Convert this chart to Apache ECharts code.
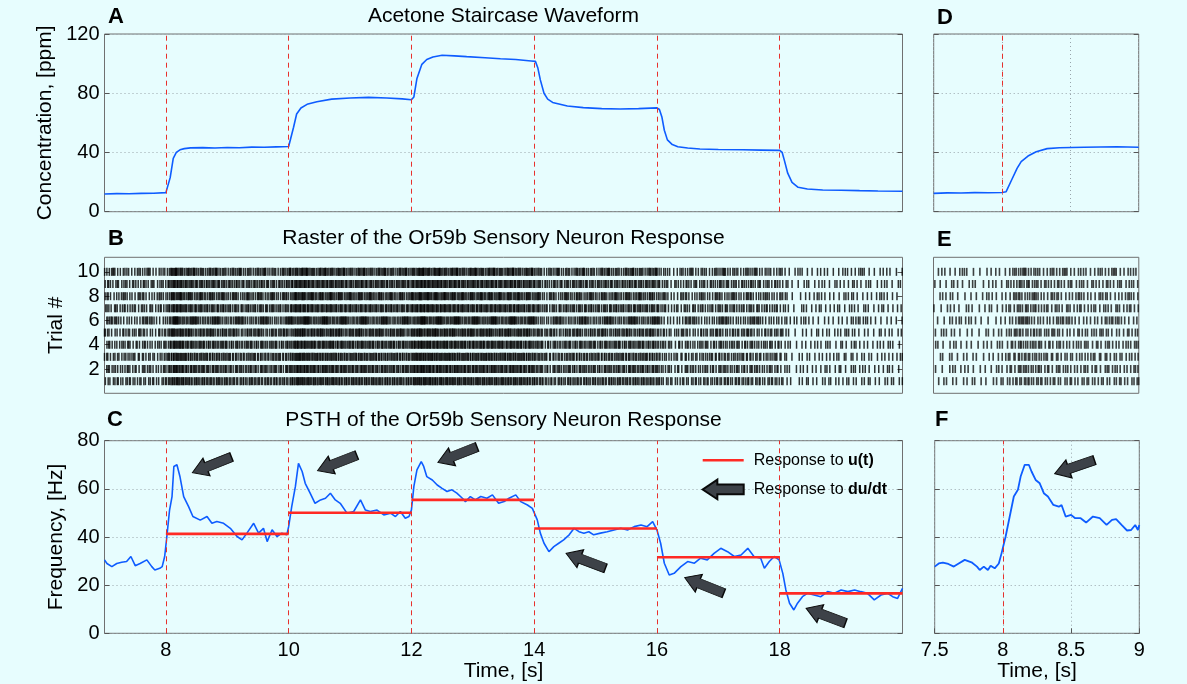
<!DOCTYPE html>
<html>
<head>
<meta charset="utf-8">
<title>Acetone staircase and Or59b response</title>
<script src="https://cdn.jsdelivr.net/npm/echarts@6.0.0/dist/echarts.min.js"></script>
<style>
  html, body { margin: 0; padding: 0; background: #e7fdfe; }
  #chart { width: 1187px; height: 684px; }
</style>
</head>
<body>
<div id="chart"></div>
<script>
// ---- values ----
const switchTimes = [8, 10, 12, 14, 16, 18];
const xTickValues = [8, 10, 12, 14, 16, 18];
const trialTicks = [2, 4, 6, 8, 10];
const trials = [1, 2, 3, 4, 5, 6, 7, 8, 9, 10];

// A: acetone concentration, ppm
const concTimes = [7.0, 7.2, 7.4, 7.6, 7.8, 8.0, 8.03, 8.07, 8.12, 8.17, 8.23, 8.3, 8.4, 8.6, 8.8, 9.0, 9.2, 9.4, 9.6, 9.8,
  10.0, 10.03, 10.08, 10.13, 10.2, 10.3, 10.46, 10.7, 11.0, 11.3, 11.6, 11.85, 12.0,
  12.04, 12.09, 12.17, 12.25, 12.35, 12.5, 12.7, 12.9, 13.2, 13.45, 13.7, 13.95, 14.02,
  14.06, 14.1, 14.16, 14.22, 14.3, 14.54, 14.8, 15.1, 15.4, 15.7, 16.0,
  16.04, 16.08, 16.12, 16.17, 16.25, 16.34, 16.5, 16.7, 17.0, 17.4, 17.7, 18.0,
  18.04, 18.08, 18.13, 18.2, 18.3, 18.45, 18.7, 19.0, 19.3, 19.6, 20.0];
const concValues = [12.0, 12.2, 12.1, 12.4, 12.5, 12.9, 13.2, 23.0, 36.0, 40.0, 41.8, 42.6, 43.1, 43.3, 43.0, 43.4, 43.2, 43.6, 43.5, 43.8,
  44.0, 44.5, 57.0, 66.0, 70.0, 72.5, 74.3, 76.0, 76.8, 77.2, 76.8, 76.2, 75.6,
  77.5, 90.0, 99.5, 102.8, 104.5, 105.6, 105.2, 104.7, 104.0, 103.3, 102.8, 101.8, 101.5,
  97.0, 89.0, 80.0, 76.0, 73.8, 71.4, 70.3, 69.6, 69.4, 69.6, 70.1,
  69.0, 64.0, 55.0, 48.5, 45.3, 43.9, 43.0, 42.3, 42.0, 41.8, 41.6, 41.4,
  40.0, 34.0, 26.0, 19.8, 16.5, 15.3, 14.7, 14.5, 14.2, 14.0, 13.8];

// D: concentration, 7.5-9 s
const concZoomTimes = [7.5, 7.6, 7.7, 7.8, 7.9, 8.0, 8.03, 8.07, 8.11, 8.14, 8.19, 8.25, 8.33, 8.42, 8.6, 8.84, 9.0];
const concZoomValues = [12.4, 12.7, 12.6, 12.9, 12.8, 13.0, 13.5, 21.4, 29.3, 33.8, 37.6, 40.5, 42.6, 43.2, 43.5, 43.9, 43.5];

// C: PSTH, Hz
const psthTimes = [7.0, 7.04, 7.12, 7.2, 7.28, 7.36, 7.43, 7.5, 7.58, 7.69, 7.77, 7.82, 7.9, 7.94, 7.98,
  8.01, 8.06, 8.1, 8.13, 8.18, 8.23, 8.29, 8.37, 8.44, 8.56, 8.67, 8.75, 8.83, 8.94, 9.05, 9.16, 9.24, 9.32,
  9.43, 9.51, 9.59, 9.65, 9.73, 9.81, 9.89, 9.97,
  10.0, 10.05, 10.11, 10.16, 10.22, 10.27, 10.35, 10.43, 10.52, 10.6, 10.68, 10.76, 10.84, 10.95, 11.06,
  11.17, 11.25, 11.33, 11.44, 11.55, 11.66, 11.74, 11.82, 11.9, 11.96,
  12.0, 12.04, 12.09, 12.16, 12.2, 12.25, 12.34, 12.42, 12.5, 12.58, 12.66, 12.74, 12.83, 12.88, 12.96,
  13.04, 13.13, 13.23, 13.32, 13.42, 13.51, 13.59, 13.7, 13.78, 13.89, 13.97,
  14.0, 14.05, 14.1, 14.16, 14.24, 14.32, 14.4, 14.48, 14.57, 14.65, 14.73, 14.81, 14.89, 14.97,
  15.08, 15.19, 15.3, 15.41, 15.52, 15.63, 15.74, 15.84, 15.93,
  16.0, 16.06, 16.12, 16.2, 16.28, 16.39, 16.5, 16.61, 16.71, 16.82, 16.93, 17.04, 17.15, 17.26,
  17.37, 17.48, 17.58, 17.69, 17.75, 17.83, 17.91, 17.99,
  18.05, 18.1, 18.16, 18.23, 18.29, 18.37, 18.45, 18.56, 18.67, 18.78, 18.89, 19.0, 19.11, 19.22,
  19.32, 19.43, 19.54, 19.65, 19.76, 19.84, 19.92, 20.0];
const psthRates = [30.5, 29.0, 27.7, 29.0, 29.5, 29.8, 31.9, 28.1, 29.0, 30.5, 27.7, 26.3, 27.0, 27.7, 31.9,
  38.8, 51.2, 56.8, 69.3, 70.0, 65.0, 56.8, 52.6, 48.5, 47.0, 48.5, 45.7, 46.4, 45.7, 43.6, 40.2, 38.8, 41.6,
  45.7, 41.6, 43.6, 38.1, 43.0, 40.2, 41.6, 40.9,
  44.3, 52.6, 61.0, 70.6, 67.2, 62.3, 58.2, 54.0, 55.4, 56.1, 58.2, 55.4, 54.0, 49.9, 50.6,
  55.4, 51.2, 50.6, 51.2, 49.2, 49.9, 48.5, 50.6, 47.8, 48.5,
  51.2, 61.0, 67.9, 71.3, 69.3, 65.1, 63.7, 61.6, 60.2, 58.9, 59.6, 58.2, 56.1, 54.7, 56.8,
  55.4, 56.8, 56.1, 57.5, 54.0, 54.7, 56.1, 57.5, 54.7, 53.3, 51.9,
  51.2, 47.1, 41.6, 37.4, 33.9, 36.0, 37.4, 38.8, 40.9, 43.6, 42.2, 41.6, 42.2, 40.9,
  41.6, 42.2, 42.9, 43.6, 42.9, 44.3, 45.0, 44.3, 46.4,
  42.9, 37.4, 29.1, 24.2, 24.9, 27.7, 29.8, 29.1, 31.2, 30.5, 33.2, 35.3, 33.9, 31.9,
  32.5, 35.3, 31.9, 31.2, 27.0, 29.8, 31.9, 30.5,
  24.9, 18.0, 12.5, 9.7, 12.5, 15.2, 16.6, 15.9, 15.2, 17.3, 16.6, 18.0, 17.3, 18.0,
  17.3, 16.6, 13.9, 15.9, 16.6, 15.2, 14.5, 18.7];

// F: PSTH, 7.5-9 s
const psthZoomTimes = [7.5, 7.53, 7.56, 7.6, 7.64, 7.67, 7.72, 7.77, 7.81, 7.83, 7.86, 7.89, 7.91, 7.94, 7.97, 7.99,
  8.02, 8.05, 8.08, 8.11, 8.13, 8.16, 8.19, 8.21, 8.24, 8.27, 8.3, 8.33, 8.37, 8.41, 8.43, 8.46,
  8.5, 8.53, 8.57, 8.61, 8.66, 8.71, 8.76, 8.8, 8.83, 8.87, 8.91, 8.94, 8.97, 8.99, 9.0];
const psthZoomRates = [27.7, 29.0, 29.4, 28.8, 27.7, 28.8, 30.5, 29.5, 27.7, 26.3, 27.7, 26.3, 28.1, 27.0, 29.0, 33.2,
  40.2, 48.5, 56.8, 59.6, 65.1, 70.0, 70.0, 67.2, 63.7, 62.3, 58.2, 56.8, 53.3, 52.6, 53.3, 48.5,
  49.2, 47.8, 47.8, 46.0, 48.5, 47.8, 45.0, 47.1, 47.4, 45.0, 42.7, 42.9, 45.0, 42.9, 45.0];

// red "response to u(t)" levels, one per 2 s step
const stepLevels = [41.3, 50.1, 55.4, 43.5, 31.6, 16.6];
const stepLength = 2;

// grey arrows: centre time, centre rate, pointing angle (deg)
const arrowTimes = [8.75, 10.79, 12.75, 14.84, 16.77, 18.75];
const arrowRates = [70.0, 70.8, 74.2, 30.1, 19.9, 7.3];
const arrowAngles = [201.8, 201.5, 201.5, 159.4, 158.2, 159.4];
const zoomArrowTimes = [8.525];
const zoomArrowRates = [69.1];
const zoomArrowAngles = [198.9];

// raster: spikes are placed where the PSTH above integrates to a count;
// each trial has its own phase and walks the uneven interval weights with its own stride
const trialPhases = [0.12, 0.47, 0.83, 0.29, 0.65, 0.05, 0.71, 0.38, 0.91, 0.56];
const trialStrides = [1, 7, 3, 10, 5, 2, 9, 4, 8, 6];
const isiWeights = [0.55, 1.35, 0.8, 1.6, 0.7, 1.1, 0.45, 1.25, 0.95, 1.5, 0.65, 1.05, 0.5, 1.4, 0.85, 1.2, 1.1];

// ---- helpers ----
const FONT = "'Liberation Sans', Arial, Helvetica, sans-serif";
const zip = (xs, ys) => xs.map((x, i) => [x, ys[i]]);

function spikeTrain(phase, offset, stride) {
  const out = [];
  let acc = phase;
  let j = 1;
  let k = offset;
  for (let n = 0; n < 13000; n++) {
    const t = 7 + n / 1000;
    while (j < psthTimes.length - 1 && psthTimes[j] < t) j++;
    const t0 = psthTimes[j - 1], t1 = psthTimes[j];
    const f = Math.min(1, Math.max(0, (t - t0) / (t1 - t0)));
    const r = psthRates[j - 1] + f * (psthRates[j] - psthRates[j - 1]);
    acc += r / 1000;
    const need = isiWeights[k % isiWeights.length];
    if (acc >= need) { acc -= need; k += stride; out.push(t); }
  }
  return out;
}

const rasterData = trials.flatMap((tr, i) =>
  spikeTrain(trialPhases[i], i * 3, trialStrides[i]).map(t => [t, tr]));
const rasterZoomData = rasterData.filter(p => p[0] >= 7.5 && p[0] <= 9);

const stepData = [];
switchTimes.forEach((t, i) => {
  stepData.push([t, stepLevels[i]], [t + stepLength, stepLevels[i]], [t + stepLength, '-']);
});

const arrowPath = 'path://M0,5 L27,5 L27,0 L42,10 L27,20 L27,15 L0,15 Z';
const arrowLeftPath = 'path://M42,5 L15,5 L15,0 L0,10 L15,20 L15,15 L42,15 Z';
const lineIconPath = 'path://M0,0 L41,0 L41,2.6 L0,2.6 Z';

const lbl = { show: true, fontFamily: FONT, fontSize: 20, color: '#000', margin: 5 };
const nameStyle = { fontFamily: FONT, fontSize: 21, color: '#000' };
const tickIn = { show: true, inside: true, length: 5, lineStyle: { color: '#555' } };
const dotted = { show: true, lineStyle: { type: [1, 3], color: '#98a4ab', width: 1 } };

function axis(extra) {
  return Object.assign({
    type: 'value',
    axisLine: { show: false },
    axisLabel: { show: false },
    axisTick: { show: false },
    splitLine: { show: false }
  }, extra);
}

function switchLines(times) {
  return {
    silent: true,
    symbol: ['none', 'none'],
    label: { show: false },
    lineStyle: { color: '#e8302c', type: [5, 4], width: 1 },
    emphasis: { disabled: true },
    data: times.map(t => ({ xAxis: t }))
  };
}

function gridBox(left, top, width, height) {
  return { left, top, width, height, show: true, borderColor: '#707070', borderWidth: 1,
    backgroundColor: 'transparent', outerBoundsMode: 'none' };
}

function titleText(text, left, top) {
  return { text, left, top, padding: 0, textAlign: 'center',
    textStyle: { fontFamily: FONT, fontSize: 21, fontWeight: 'normal', color: '#000' } };
}

function panelLetter(text, left, top) {
  return { text, left, top, padding: 0,
    textStyle: { fontFamily: FONT, fontSize: 22, fontWeight: 'bold', color: '#000' } };
}

const chart = echarts.init(document.getElementById('chart'));

const option = {
  animation: false,
  backgroundColor: '#e7fdfe',
  title: [
    titleText('Acetone Staircase Waveform', 503.5, 6),
    titleText('Raster of the Or59b Sensory Neuron Response', 503.5, 228),
    titleText('PSTH of the Or59b Sensory Neuron Response', 503.5, 409.5),
    panelLetter('A', 108, 6),
    panelLetter('B', 108, 228),
    panelLetter('C', 107, 409),
    panelLetter('D', 937, 7),
    panelLetter('E', 937, 229),
    panelLetter('F', 935, 409)
  ],
  legend: {
    orient: 'vertical',
    left: 701.7,
    top: 452.3,
    padding: 0,
    itemWidth: 41,
    itemHeight: 20,
    itemGap: 10.4,
    selectedMode: false,
    data: [
      { name: 'Response to u(t)', icon: lineIconPath },
      { name: 'Response to du/dt', icon: arrowLeftPath }
    ],
    formatter: n => n.replace(/(u\(t\)|du\/dt)$/, '{b|$1}'),
    textStyle: {
      fontFamily: FONT, fontSize: 16, color: '#000', padding: [0, 0, 0, 5],
      rich: { b: { fontFamily: FONT, fontSize: 16, fontWeight: 'bold', color: '#000' } }
    }
  },
  grid: [
    gridBox(104.5, 34, 798, 177.7),
    gridBox(104.5, 257.3, 798, 136),
    gridBox(104.5, 440.7, 798, 192.6),
    gridBox(933.7, 34, 205, 177.7),
    gridBox(933.5, 257.3, 205.3, 136),
    gridBox(934.7, 440.7, 204.6, 192.6)
  ],
  xAxis: [
    axis({ gridIndex: 0, min: 7, max: 20 }),
    axis({ gridIndex: 1, min: 7, max: 20 }),
    axis({ gridIndex: 2, min: 7, max: 20,
      axisLabel: Object.assign({}, lbl, { margin: 7, customValues: xTickValues }),
      axisTick: Object.assign({}, tickIn, { customValues: xTickValues }),
      name: 'Time, [s]', nameLocation: 'middle', nameGap: 24, nameTextStyle: nameStyle }),
    axis({ gridIndex: 3, min: 7.5, max: 9, interval: 0.5, splitLine: dotted }),
    axis({ gridIndex: 4, min: 7.5, max: 9 }),
    axis({ gridIndex: 5, min: 7.5, max: 9, interval: 0.5, splitLine: dotted,
      axisLabel: Object.assign({}, lbl, { margin: 7 }), axisTick: tickIn,
      name: 'Time, [s]', nameLocation: 'middle', nameGap: 24, nameTextStyle: nameStyle })
  ],
  yAxis: [
    axis({ gridIndex: 0, min: 0, max: 120, interval: 40, axisLabel: lbl, axisTick: tickIn, splitLine: dotted,
      name: 'Concentration, [ppm]', nameLocation: 'middle', nameGap: 43, nameTextStyle: nameStyle }),
    axis({ gridIndex: 1, min: 0, max: 11.2,
      axisLabel: Object.assign({}, lbl, { customValues: trialTicks }),
      axisTick: Object.assign({}, tickIn, { customValues: trialTicks }),
      name: 'Trial #', nameLocation: 'middle', nameGap: 33, nameTextStyle: nameStyle }),
    axis({ gridIndex: 2, min: 0, max: 80, interval: 20, axisLabel: lbl, axisTick: tickIn, splitLine: dotted,
      name: 'Frequency, [Hz]', nameLocation: 'middle', nameGap: 33, nameTextStyle: nameStyle }),
    axis({ gridIndex: 3, min: 0, max: 120, interval: 40, axisTick: tickIn, splitLine: dotted }),
    axis({ gridIndex: 4, min: 0, max: 11.2 }),
    axis({ gridIndex: 5, min: 0, max: 80, interval: 20, axisTick: tickIn, splitLine: dotted }),
    // mirrored tick marks on the right edge
    axis({ gridIndex: 0, position: 'right', min: 0, max: 120, interval: 40, axisTick: tickIn }),
    axis({ gridIndex: 1, position: 'right', min: 0, max: 11.2,
      axisTick: Object.assign({}, tickIn, { customValues: trialTicks }) }),
    axis({ gridIndex: 2, position: 'right', min: 0, max: 80, interval: 20, axisTick: tickIn }),
    axis({ gridIndex: 3, position: 'right', min: 0, max: 120, interval: 40, axisTick: tickIn }),
    axis({ gridIndex: 4, position: 'right', min: 0, max: 11.2 }),
    axis({ gridIndex: 5, position: 'right', min: 0, max: 80, interval: 20, axisTick: tickIn })
  ],
  series: [
    {
      name: 'concentration', type: 'line', xAxisIndex: 0, yAxisIndex: 0,
      data: zip(concTimes, concValues), showSymbol: false, symbol: 'none',
      lineStyle: { color: '#0e5cff', width: 1.6 }, z: 3,
      markLine: switchLines(switchTimes)
    },
    {
      name: 'raster', type: 'scatter', xAxisIndex: 1, yAxisIndex: 1,
      data: rasterData, symbol: 'rect', symbolSize: [1.5, 8],
      itemStyle: { color: '#000' }, silent: true
    },
    {
      name: 'psth', type: 'line', xAxisIndex: 2, yAxisIndex: 2,
      data: zip(psthTimes, psthRates), showSymbol: false, symbol: 'none',
      lineStyle: { color: '#0e5cff', width: 1.6 }, z: 3,
      markLine: switchLines(switchTimes)
    },
    {
      name: 'Response to u(t)', type: 'line', xAxisIndex: 2, yAxisIndex: 2,
      data: stepData, showSymbol: false, symbol: 'none', connectNulls: false,
      color: '#ff2a24', itemStyle: { color: '#ff2a24' },
      lineStyle: { color: '#ff2a24', width: 2.6 }, z: 4
    },
    {
      name: 'Response to du/dt', type: 'scatter', xAxisIndex: 2, yAxisIndex: 2,
      data: arrowTimes.map((t, i) => ({ value: [t, arrowRates[i]], symbolRotate: arrowAngles[i] })),
      symbol: arrowPath, symbolSize: [42, 19], z: 5,
      itemStyle: { color: '#3d4248', borderColor: '#0a0a0a', borderWidth: 1, opacity: 1 }
    },
    {
      name: 'concentration zoom', type: 'line', xAxisIndex: 3, yAxisIndex: 3,
      data: zip(concZoomTimes, concZoomValues), showSymbol: false, symbol: 'none',
      lineStyle: { color: '#0e5cff', width: 1.6 }, z: 3,
      markLine: switchLines([8])
    },
    {
      name: 'raster zoom', type: 'scatter', xAxisIndex: 4, yAxisIndex: 4,
      data: rasterZoomData, symbol: 'rect', symbolSize: [1.6, 8],
      itemStyle: { color: '#111' }, silent: true
    },
    {
      name: 'psth zoom', type: 'line', xAxisIndex: 5, yAxisIndex: 5,
      data: zip(psthZoomTimes, psthZoomRates), showSymbol: false, symbol: 'none',
      lineStyle: { color: '#0e5cff', width: 1.8 }, z: 3,
      markLine: switchLines([8])
    },
    {
      name: 'arrow zoom', type: 'scatter', xAxisIndex: 5, yAxisIndex: 5,
      data: zoomArrowTimes.map((t, i) => ({ value: [t, zoomArrowRates[i]], symbolRotate: zoomArrowAngles[i] })),
      symbol: arrowPath, symbolSize: [42, 19], z: 5,
      itemStyle: { color: '#3d4248', borderColor: '#0a0a0a', borderWidth: 1, opacity: 1 }
    }
  ]
};

chart.setOption(option);
</script>
</body>
</html>
